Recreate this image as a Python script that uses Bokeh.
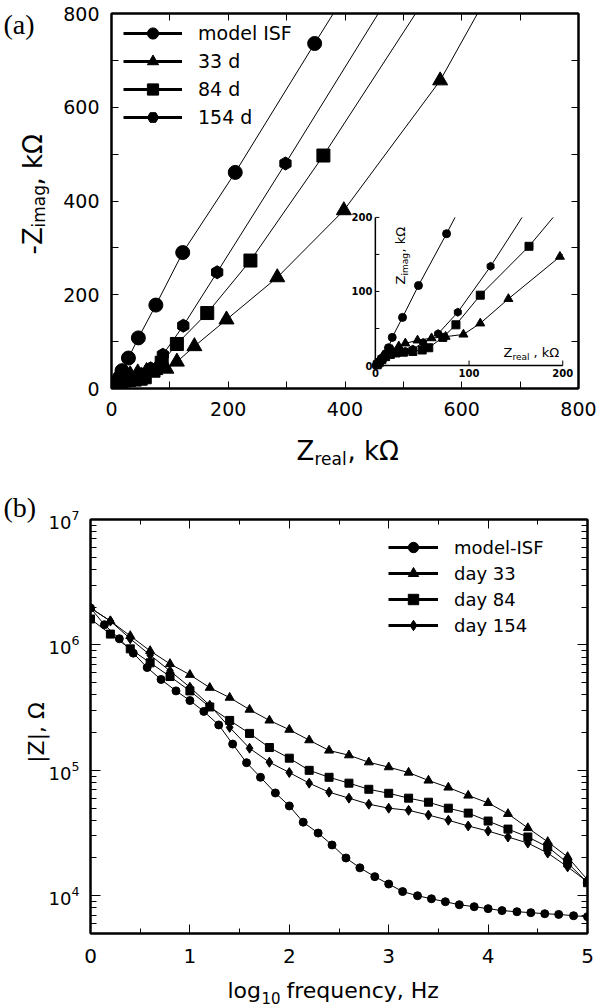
from math import pi
from bokeh.plotting import figure
from bokeh.models import (Range1d, LinearAxis, LogAxis, FixedTicker, LogTicker,
                          LinearScale, Legend, LegendItem, CustomJSTickFormatter)
from bokeh.layouts import column, row
from bokeh.core.properties import value
from bokeh.embed import file_html
from bokeh.resources import INLINE

FONT = "DejaVu Sans"
SERIF = "Liberation Serif"
NAN = float("nan")

# ---------------- data ----------------
# (a) Nyquist plot, kOhm (high -> low frequency)
isf_re = [1, 2, 3, 4, 6, 8, 11, 14, 18, 29, 46, 76, 122, 212, 348]
isf_im = [0.5, 1.5, 3, 5, 8, 11, 16, 24, 38, 65, 108, 178, 290, 461, 736]
d33_re = [2, 4, 7, 12, 18, 25, 32, 45, 60, 75, 94, 112, 142, 197, 284, 398, 563]
d33_im = [1, 4, 9, 15, 21, 26, 30, 34, 37, 39, 42, 57, 90, 147, 237, 380, 657]
d84_re = [2, 4, 7, 11, 16, 22, 30, 40, 50, 57, 72, 86, 112, 164, 238, 363]
d84_im = [1, 4, 8, 12, 15, 17, 18, 19, 21, 24, 38, 55, 95, 161, 273, 497]
d154_re = [2, 4, 6, 9, 13, 18, 24, 32, 40, 51, 67, 88, 123, 181, 298]
d154_im = [1, 4, 8, 12, 15, 17, 18, 19, 22, 31, 43, 72, 134, 248, 480]
# fitted curves run on past the last point up to the top edge
isf_fit_end = [380, 800]
d33_fit_end = [627, 800]
d84_fit_end = [521, 800]
d154_fit_end = [457, 800]

a_ticks = [0, 200, 400, 600, 800]
a_minor = [100, 300, 500, 700]
inset_ticks_y = [0, 50, 100, 150, 200]
inset_ticks_x = [100, 200]
inset_labels = ["0", "100", "200"]
inset_label_vals = [0, 100, 200]

# (b) |Z| (ohm) versus log10 frequency (Hz)
isf_logf = [0.0, 0.14, 0.29, 0.43, 0.57, 0.71, 0.86, 1.0, 1.14, 1.29, 1.43, 1.57,
            1.71, 1.86, 2.0, 2.14, 2.29, 2.43, 2.57, 2.71, 2.86, 3.0, 3.14, 3.29,
            3.43, 3.57, 3.71, 3.86, 4.0, 4.14, 4.29, 4.43, 4.57, 4.71, 4.86, 5.0]
isf_absz = [1.97e6, 1.45e6, 1.12e6, 8.6e5, 6.6e5, 5.3e5, 4.3e5, 3.6e5, 2.95e5, 2.3e5,
            1.62e5, 1.15e5, 8.8e4, 6.6e4, 5.2e4, 3.86e4, 3.16e4, 2.54e4, 2.0e4, 1.67e4,
            1.42e4, 1.24e4, 1.08e4, 1.0e4, 9.46e3, 8.96e3, 8.48e3, 8.18e3, 7.89e3,
            7.61e3, 7.46e3, 7.33e3, 7.19e3, 7.1e3, 6.93e3, 6.81e3]
day_logf = [0.0, 0.2, 0.4, 0.6, 0.8, 1.0, 1.2, 1.4, 1.6, 1.8, 2.0, 2.2, 2.4, 2.6,
            2.8, 3.0, 3.2, 3.4, 3.6, 3.8, 4.0, 4.2, 4.4, 4.6, 4.8, 5.0]
d33_absz = [1.97e6, 1.55e6, 1.18e6, 8.96e5, 7.06e5, 5.78e5, 4.56e5, 3.8e5, 3.05e5,
            2.5e5, 2.11e5, 1.74e5, 1.44e5, 1.32e5, 1.16e5, 1.06e5, 9.6e4, 8.3e4,
            7.3e4, 6.3e4, 5.5e4, 4.5e4, 3.47e4, 2.69e4, 2.04e4, 1.34e4]
d84_absz = [1.61e6, 1.22e6, 9.3e5, 7.2e5, 5.6e5, 4.3e5, 3.2e5, 2.5e5, 1.97e5, 1.52e5,
            1.25e5, 1.0e5, 8.8e4, 7.9e4, 7.06e4, 6.56e4, 6.0e4, 5.57e4, 4.99e4, 4.56e4,
            3.94e4, 3.4e4, 2.94e4, 2.45e4, 1.83e4, 1.27e4]
d154_absz = [1.97e6, 1.55e6, 1.12e6, 8.3e5, 6.2e5, 4.6e5, 3.3e5, 2.2e5, 1.5e5, 1.16e5,
             9.6e4, 7.9e4, 6.7e4, 6.0e4, 5.37e4, 4.99e4, 4.8e4, 4.4e4, 4.0e4, 3.6e4,
             3.28e4, 2.94e4, 2.63e4, 2.19e4, 1.70e4, 1.29e4]
b_ticks = [0, 1, 2, 3, 4, 5]
b_minor = [0.5, 1.5, 2.5, 3.5, 4.5]


def blank():
    return CustomJSTickFormatter(code="return ''")


def style_axis(ax, tin, minor_in, size, standoff):
    ax.axis_line_width = 2
    ax.axis_line_color = "black"
    ax.major_tick_in = tin
    ax.major_tick_out = 0
    ax.minor_tick_in = minor_in
    ax.minor_tick_out = 0
    ax.major_tick_line_color = "black"
    ax.minor_tick_line_color = "black"
    ax.major_label_text_font = FONT
    ax.major_label_text_font_size = size
    ax.major_label_text_color = "black"
    ax.major_label_standoff = standoff


def ptext(fig, x, y, text, size, font=FONT, angle=0.0, align="left",
          baseline="alphabetic", style="normal"):
    """text placed in page pixels via the figure's 'px'/'py' ranges (not clipped)"""
    fig.text([x], [y], text=[text], angle=angle, text_align=align,
             text_baseline=baseline, text_font=value(font), text_font_size=size,
             text_font_style=style, text_color="black",
             x_range_name="px", y_range_name="py", level="overlay")


# ---------------- panel (a) ----------------
A_L, A_R, A_T, A_B = 111, 578, 13, 388   # frame edges on the page
pa = figure(width=603, height=478, x_range=Range1d(0, 800), y_range=Range1d(0, 800),
            output_backend="svg", toolbar_location=None,
            min_border_left=A_L, min_border_right=603 - A_R,
            min_border_top=A_T, min_border_bottom=478 - A_B)
pa.grid.visible = False
pa.outline_line_color = "black"
pa.outline_line_width = 2
pa.background_fill_color = "white"
pa.border_fill_color = "white"
pa.extra_x_ranges["px"] = Range1d(A_L, A_R)
pa.extra_y_ranges["py"] = Range1d(A_B, A_T)

pa.xaxis.ticker = FixedTicker(ticks=a_ticks, minor_ticks=a_minor)
pa.yaxis.ticker = FixedTicker(ticks=a_ticks, minor_ticks=a_minor)
style_axis(pa.xaxis[0], 7, 7, "19px", 13)
style_axis(pa.yaxis[0], 7, 7, "19px", 12)
for side in ("above", "right"):
    ax = LinearAxis(ticker=FixedTicker(ticks=a_ticks, minor_ticks=a_minor), formatter=blank())
    style_axis(ax, 7, 7, "1px", 0)
    pa.add_layout(ax, side)

series_a = [
    (isf_re, isf_im, isf_fit_end, "circle", 14, 8, "model ISF", 0.0),
    (d33_re, d33_im, d33_fit_end, "triangle", 15, 9, "33 d", 0.0),
    (d84_re, d84_im, d84_fit_end, "square", 13, 8, "84 d", 0.0),
    (d154_re, d154_im, d154_fit_end, "hex", 13, 8, "154 d", pi / 2),
]

# inset placement inside the main frame (in main data units)
IN_X0, IN_X1 = 452, 773
IN_Y0, IN_Y1 = 49, 365
IN_LIM = 200
sx = (IN_X1 - IN_X0) / IN_LIM
sy = (IN_Y1 - IN_Y0) / IN_LIM
pa.extra_x_ranges["ix"] = Range1d(-IN_X0 / sx, (800 - IN_X0) / sx)
pa.extra_y_ranges["iy"] = Range1d(-IN_Y0 / sy, (800 - IN_Y0) / sy)


def clip_box(xs, ys, lim):
    ox, oy = [], []
    for i in range(len(xs)):
        x, y = xs[i], ys[i]
        if x <= lim and y <= lim:
            ox.append(x)
            oy.append(y)
        else:
            if i > 0:
                x0, y0 = xs[i - 1], ys[i - 1]
                t = 1.0
                if x > lim:
                    t = min(t, (lim - x0) / (x - x0))
                if y > lim:
                    t = min(t, (lim - y0) / (y - y0))
                ox.append(x0 + t * (x - x0))
                oy.append(y0 + t * (y - y0))
            break
    return ox, oy


legend_items_a = []
for xs, ys, end, mk, size, isize, lab, ang in series_a:
    lx = xs + [end[0]]
    ly = ys + [end[1]]
    pa.line(lx, ly, line_color="black", line_width=1)
    pa.scatter(xs, ys, marker=mk, size=size, angle=ang, fill_color="black", line_color="black")
    # inset (zoom of the low-impedance region)
    cx, cy = clip_box(lx, ly, IN_LIM)
    pa.line(cx, cy, line_color="black", line_width=1, x_range_name="ix", y_range_name="iy")
    px = [x for x, y in zip(xs, ys) if x <= IN_LIM and y <= IN_LIM]
    py = [y for x, y in zip(xs, ys) if x <= IN_LIM and y <= IN_LIM]
    pa.scatter(px, py, marker=mk, size=isize, angle=ang, fill_color="black", line_color="black",
               x_range_name="ix", y_range_name="iy")
    # legend-only renderers (thick line + marker)
    rl = pa.line([NAN], [NAN], line_color="black", line_width=3)
    rs = pa.scatter([NAN], [NAN], marker=mk, size=size, angle=ang, fill_color="black",
                    line_color="black")
    legend_items_a.append(LegendItem(label=lab, renderers=[rl, rs]))

leg_a = Legend(items=legend_items_a, location=(12, 257), orientation="vertical",
               glyph_width=59, glyph_height=28, label_height=28, label_standoff=16,
               spacing=0, padding=0, margin=0, border_line_color=None,
               background_fill_alpha=0, label_text_font=FONT,
               label_text_font_size="19px", label_text_color="black")
pa.add_layout(leg_a)

# inset axes
pa.line([0, 0], [0, IN_LIM], line_color="black", line_width=1.5, x_range_name="ix", y_range_name="iy")
pa.line([0, IN_LIM], [0, 0], line_color="black", line_width=1.5, x_range_name="ix", y_range_name="iy")
pa.ray([0] * len(inset_ticks_y), inset_ticks_y, length=4, length_units="screen", angle=0,
       line_color="black", line_width=1, x_range_name="ix", y_range_name="iy")
pa.ray(inset_ticks_x, [0] * len(inset_ticks_x), length=5, length_units="screen", angle=pi / 2,
       line_color="black", line_width=1, x_range_name="ix", y_range_name="iy")
pa.text([0] * 3, inset_label_vals, text=inset_labels, x_offset=-3, text_align="right",
        text_baseline="middle", text_font=value(FONT), text_font_size="10px",
        text_font_style="bold", x_range_name="ix", y_range_name="iy")
pa.text(inset_label_vals, [0] * 3, text=inset_labels, y_offset=3, text_align="center",
        text_baseline="top", text_font=value(FONT), text_font_size="10px",
        text_font_style="bold", x_range_name="ix", y_range_name="iy")

# inset axis titles
ptext(pa, 400, 284, "Z", "13px", angle=pi / 2)
ptext(pa, 404, 275, "imag", "9px", angle=pi / 2)
ptext(pa, 400, 252, ", k\u03a9", "13px", angle=pi / 2)
ptext(pa, 503, 352, "Z", "13px")
ptext(pa, 512, 356, "real", "9px")
ptext(pa, 533, 352, ", k\u03a9", "13px")

# main axis titles
ptext(pa, 296, 450, "Z", "26px")
ptext(pa, 314, 458, "real", "17px")
ptext(pa, 347, 450, ", k\u03a9", "26px")
ptext(pa, 32, 254, "-Z", "26px", angle=pi / 2)
ptext(pa, 38, 227, "imag", "17px", angle=pi / 2)
ptext(pa, 32, 185, ", k\u03a9", "26px", angle=pi / 2)
ptext(pa, 3, 24, "(a)", "28px", font=SERIF)

# ---------------- panel (b) ----------------
B_TOP = 478                      # page y of the figure's top edge
B_L, B_R, B_T, B_B = 90, 587, 519, 933
B_H = 529
pb = figure(width=603, height=B_H, x_range=Range1d(0, 5), y_range=Range1d(5000, 1e7),
            y_axis_type="log", output_backend="svg", toolbar_location=None,
            min_border_left=B_L, min_border_right=603 - B_R,
            min_border_top=B_T - B_TOP, min_border_bottom=B_TOP + B_H - B_B)
pb.grid.visible = False
pb.outline_line_color = "black"
pb.outline_line_width = 2
pb.background_fill_color = "white"
pb.border_fill_color = "white"
pb.extra_x_ranges["px"] = Range1d(B_L, B_R)
pb.extra_y_ranges["py"] = Range1d(B_B, B_T)
pb.extra_y_scales["py"] = LinearScale()

pb.xaxis.ticker = FixedTicker(ticks=b_ticks, minor_ticks=b_minor)
style_axis(pb.xaxis[0], 9, 5, "20px", 15)
pb.yaxis.ticker = LogTicker(num_minor_ticks=10)
style_axis(pb.yaxis[0], 10, 6, "18px", 11)
axt = LinearAxis(ticker=FixedTicker(ticks=b_ticks, minor_ticks=b_minor), formatter=blank())
style_axis(axt, 9, 5, "1px", 0)
pb.add_layout(axt, "above")
axr = LogAxis(ticker=LogTicker(num_minor_ticks=10), formatter=blank())
style_axis(axr, 10, 6, "1px", 0)
pb.add_layout(axr, "right")

series_b = [
    (isf_logf, isf_absz, "circle", 8, "model-ISF"),
    (day_logf, d33_absz, "triangle", 9, "day 33"),
    (day_logf, d84_absz, "square", 8, "day 84"),
    (day_logf, d154_absz, "diamond", 10, "day 154"),
]
legend_items_b = []
for xs, ys, mk, size, lab in series_b:
    pb.line(xs, ys, line_color="black", line_width=1)
    pb.scatter(xs, ys, marker=mk, size=size, fill_color="black", line_color="black")
    rl = pb.line([NAN], [NAN], line_color="black", line_width=3)
    rs = pb.scatter([NAN], [NAN], marker=mk, size=7, fill_color="black", line_color="black")
    legend_items_b.append(LegendItem(label=lab, renderers=[rl, rs]))

leg_b = Legend(items=legend_items_b, location=(298, 295), orientation="vertical",
               glyph_width=50, glyph_height=26, label_height=26, label_standoff=16,
               spacing=0, padding=0, margin=0, border_line_color=None,
               background_fill_alpha=0, label_text_font=FONT,
               label_text_font_size="18px", label_text_color="black")
pb.add_layout(leg_b)

ptext(pb, 227, 990, "log", "22px")
ptext(pb, 261, 997, "10", "15px")
ptext(pb, 286, 990, "frequency, Hz", "22px")
ptext(pb, 36, 732, "|Z|, \u03a9", "22px", angle=pi / 2, align="center")
ptext(pb, 3, 507, "(b)", "28px", font=SERIF)

# wrap panel (b) so that its frame is not aligned to panel (a)'s frame
layout = column(pa, row(pb), spacing=0)
open("out.html", "w").write(file_html(layout, INLINE))
